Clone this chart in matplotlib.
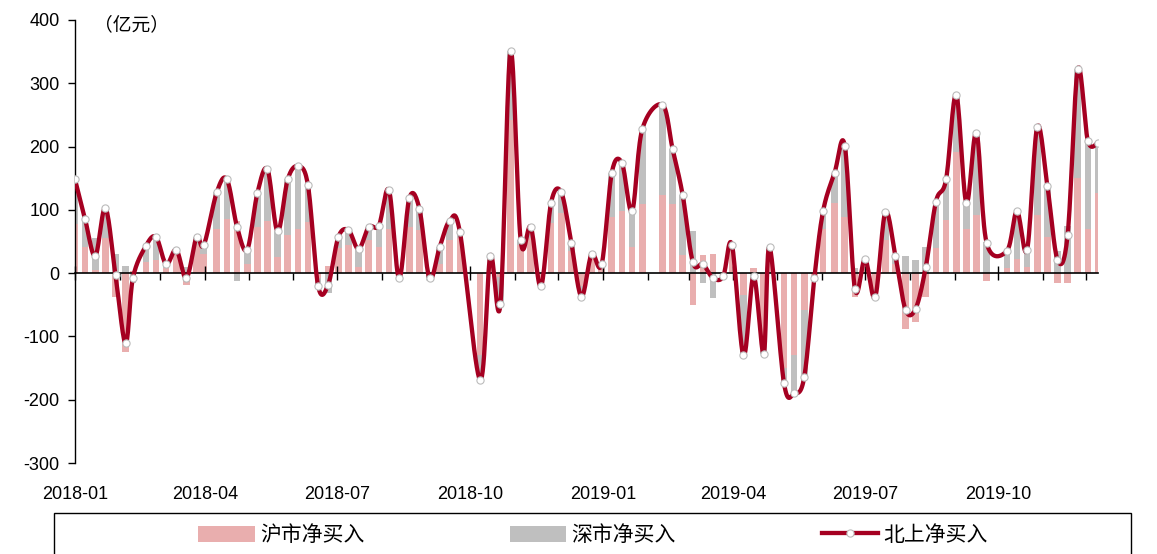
import numpy as np
import pandas as pd
import matplotlib
matplotlib.use('Agg')
import matplotlib.pyplot as plt
import matplotlib.dates as mdates
from matplotlib.patches import Patch, Rectangle
from matplotlib.lines import Line2D

plt.rcParams['font.family'] = ['Liberation Sans', 'DejaVu Sans']
plt.rcParams['axes.unicode_minus'] = False
CJK = ['Noto Sans CJK SC', 'DejaVu Sans']

# weekly dates (last trading day of the week), closed weeks dropped
weeks = pd.date_range('2018-01-05', '2019-12-13', freq='7D')
closed_weeks = ['2018-10-05', '2019-02-08', '2019-10-04']
holiday_shift = {'2018-02-16': '2018-02-14', '2018-04-06': '2018-04-04',
                 '2019-04-05': '2019-04-04', '2019-05-03': '2019-04-30',
                 '2019-06-07': '2019-06-06'}

# 北上净买入 (亿元)
total = [148, 85, 27, 103, -3, -111, -8, 43, 57, 14,
         37, -8, 57, 44, 128, 148, 73, 37, 126, 164,
         66, 148, 169, 139, -20, -18, 57, 68, 38, 73,
         75, 131, -8, 118, 102, -8, 41, 83, 65,
         -169, 27, -49, 351, 52, 73, -21, 111, 128, 48,
         -37, 30, 14, 159, 174, 98, 227,
         266, 196, 123, 17, 14, -8, -5, 45, -130, -5,
         -127, 41, -174, -190, -164, -7, 98, 159, 201, -25,
         22, -38, 96, 27, -58, -56, 10, 113, 148, 282,
         111, 222, 48,
         35, 98, 37, 231, 138, 21, 60, 322, 209, 206]

# 沪市净买入
sh = [77, 42, 5, 55, -38, -124, 3, 18, 20, 8,
      32, -18, 45, 30, 70, 85, 82, 15, 73, 83,
      25, 60, 70, 81, -8, 12, 40, 44, 10, 52,
      42, 70, -4, 73, 68, -5, 15, 52, 55,
      -130, 15, -6, 242, 45, 55, -10, 79, 95, 35,
      -20, 28, 10, 89, 98, 42, 110,
      123, 110, 28, -50, 29, 30, -2, 35, -35, 8,
      -115, 35, -150, -130, -58, -4, 70, 111, 88, -37,
      10, -25, 52, 15, -88, -77, -37, 39, 84, 191,
      70, 92, -12,
      8, 22, 10, 92, 57, -15, -15, 151, 70, 127]

# 深市净买入
sz = [71, 43, 50, 50, 30, 12, -15, 27, 37, 10,
      7, 10, 12, 16, 58, 63, -12, 24, 53, 81,
      41, 88, 99, 58, -12, -32, 17, 24, 28, 21,
      33, 61, -4, 45, 34, -3, 26, 31, 10,
      -39, 12, -44, 109, 7, 18, -11, 32, 33, 13,
      -17, 3, 4, 70, 76, 56, 117,
      143, 86, 95, 67, -15, -40, -3, 10, -95, -13,
      -12, 6, -24, -60, -106, -3, 28, 48, 113, 8,
      12, -13, 44, 12, 27, 21, 42, 74, 64, 91,
      41, 130, 50,
      27, 76, 27, 139, 81, 35, 75, 171, 139, 79]

dates = [holiday_shift.get(d.strftime('%Y-%m-%d'), d.strftime('%Y-%m-%d'))
         for d in weeks if d.strftime('%Y-%m-%d') not in closed_weeks]
dates = pd.to_datetime(dates)
x = mdates.date2num(dates)
total = np.array(total, float)
sh = np.array(sh, float)
sz = np.array(sz, float)

PINK = '#E9AEAE'
GRAY = '#BFBFBF'
RED = '#A50021'


def smooth(xs, ys, n=16):
    # Bezier smoothing like a spreadsheet "smoothed line"
    pts = np.column_stack([xs, ys])
    out = []
    for i in range(len(pts) - 1):
        p0 = pts[i - 1] if i > 0 else pts[i]
        p1, p2 = pts[i], pts[i + 1]
        p3 = pts[i + 2] if i + 2 < len(pts) else pts[i + 1]
        c1 = p1 + (p2 - p0) / 6
        c2 = p2 - (p3 - p1) / 6
        t = np.linspace(0, 1, n, endpoint=False)[:, None]
        seg = ((1 - t) ** 3 * p1 + 3 * (1 - t) ** 2 * t * c1
               + 3 * (1 - t) * t ** 2 * c2 + t ** 3 * p2)
        out.append(seg)
    out.append(pts[-1:])
    out = np.vstack(out)
    return out[:, 0], out[:, 1]


fig = plt.figure(figsize=(11.57, 5.54), dpi=100)
ax = fig.add_axes([75 / 1157, 1 - 463 / 554, (1098 - 75) / 1157, 443 / 554])

width = 4.6
ax.bar(x, sh, width=width, color=PINK, zorder=1)
sz_bottom = np.where(sz >= 0, np.maximum(sh, 0), np.minimum(sh, 0))
ax.bar(x, sz, width=width, bottom=sz_bottom, color=GRAY, zorder=1)

lx, ly = smooth(x, total)
ax.plot(lx, ly, color=RED, lw=3.1, zorder=3, solid_capstyle='round')
ax.plot(x, total, ls='none', marker='o', ms=5.2, mfc='white',
        mec='#BBBBBB', mew=0.8, zorder=4)

ax.set_xlim(x[0], x[-1])
ax.set_ylim(-300, 400)
ax.set_yticks(range(-300, 401, 100))
ax.tick_params(axis='y', direction='out', length=5, width=1,
               labelsize=13, pad=6)

for s in ['top', 'right']:
    ax.spines[s].set_visible(False)
ax.spines['left'].set_linewidth(1.0)
ax.spines['bottom'].set_position(('data', 0))
ax.spines['bottom'].set_linewidth(1.2)
ax.spines['bottom'].set_zorder(2)

major = pd.date_range('2018-01-01', '2019-12-01', freq='3MS') + pd.Timedelta(days=4)
minor = pd.date_range('2018-01-01', '2019-12-01', freq='MS') + pd.Timedelta(days=4)
ax.set_xticks(mdates.date2num(major))
ax.set_xticks(mdates.date2num(minor), minor=True)
ax.tick_params(axis='x', which='major', direction='inout', length=10,
               width=1, labelbottom=False)
ax.tick_params(axis='x', which='minor', direction='out', length=5,
               width=1, labelbottom=False)

for d in major:
    ax.text(mdates.date2num(d), -0.07, d.strftime('%Y-%m'),
            transform=ax.get_xaxis_transform(), ha='center', va='center',
            fontsize=13)

ax.text(0.019, 0.99, '（亿元）', transform=ax.transAxes, ha='left', va='center',
        fontsize=13.5, family=CJK)

# legend box
fig.add_artist(Rectangle((54 / 1157, -0.01), (1131 - 54) / 1157, 1 - 513 / 554 + 0.01,
                         transform=fig.transFigure, fill=False,
                         edgecolor='black', lw=1.0))
handles = [Patch(facecolor=PINK, edgecolor='none'),
           Patch(facecolor=GRAY, edgecolor='none'),
           Line2D([], [], color=RED, lw=3.1, marker='o', ms=5.2,
                  mfc='white', mec='#BBBBBB', mew=0.8)]
labels = ['沪市净买入', '深市净买入', '北上净买入']
fig.legend(handles, labels, loc='center', ncol=3, frameon=False,
           bbox_to_anchor=(593 / 1157, 1 - 535 / 554),
           prop={'family': CJK, 'size': 15},
           handlelength=2.7, handleheight=0.8, handletextpad=0.25,
           columnspacing=7.0, borderpad=0)

fig.savefig('out.png', dpi=100)
